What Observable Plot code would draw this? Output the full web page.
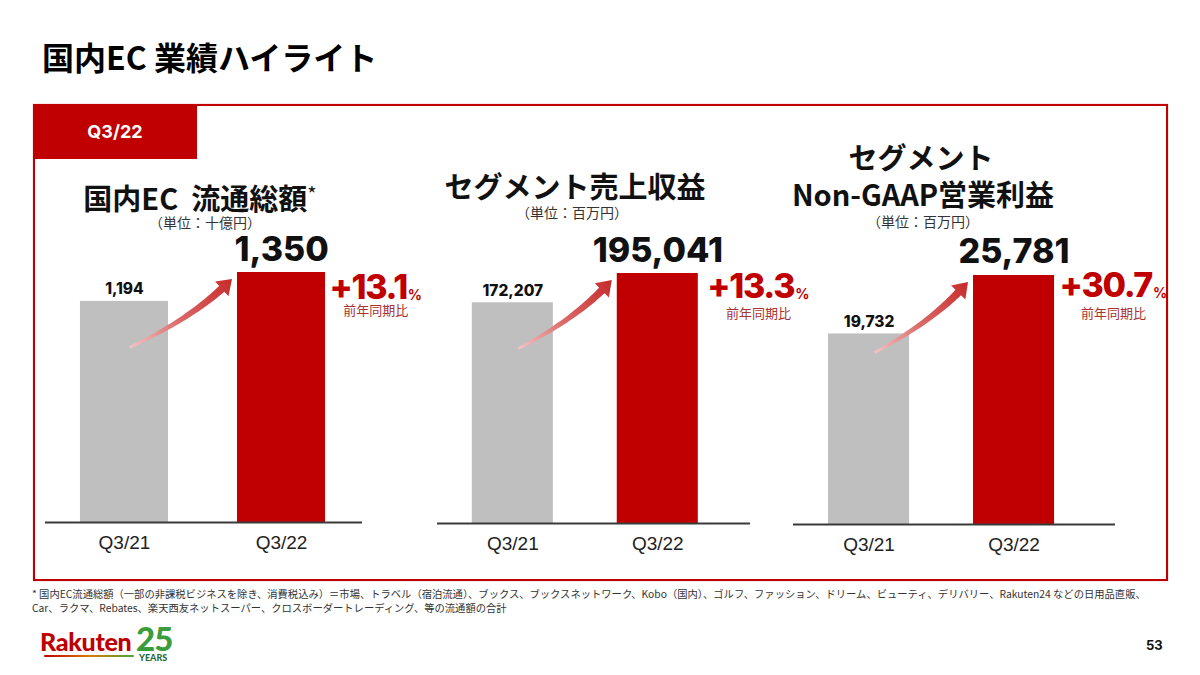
<!DOCTYPE html>
<html lang="ja">
<head>
<meta charset="utf-8">
<script src="https://cdn.jsdelivr.net/npm/d3@7"></script>
<script src="https://cdn.jsdelivr.net/npm/@observablehq/plot@0.6"></script>
<style>
  html, body { margin: 0; padding: 0; background: #fff; }
  #page { position: relative; width: 1200px; height: 675px; overflow: hidden; font-family: "Noto Sans CJK JP", "Noto Sans", sans-serif; color: #111; }
  .abs { position: absolute; white-space: nowrap; }
</style>
</head>
<body>
<div id="page"></div>
<script>
// ---------------- data ----------------
const periods = ["Q3/21", "Q3/22"];
const gmsValues = [1194, 1350];            // 国内EC 流通総額（十億円）
const revenueValues = [172207, 195041];    // セグメント売上収益（百万円）
const profitValues = [19732, 25781];       // セグメント Non-GAAP営業利益（百万円）
const growthLabels = ["+13.1", "+13.3", "+30.7"];
const panelTitles = [["国内EC 流通総額"], ["セグメント売上収益"], ["セグメント", "Non-GAAP営業利益"]];
const unitLabels = ["（単位：十億円）", "（単位：百万円）", "（単位：百万円）"];
const yoyLabel = "前年同期比";
const pageTitle = "国内EC 業績ハイライト";
const tabLabel = "Q3/22";
const footnoteLines = [
  "* 国内EC流通総額（一部の非課税ビジネスを除き、消費税込み）＝市場、トラベル（宿泊流通）、ブックス、ブックスネットワーク、Kobo（国内）、ゴルフ、ファッション、ドリーム、ビューティ、デリバリー、Rakuten24 などの日用品直販、",
  "Car、ラクマ、Rebates、楽天西友ネットスーパー、クロスボーダートレーディング、等の流通額の合計"
];
const pageNumber = "53";
const seriesValues = [gmsValues, revenueValues, profitValues];

// ---------------- styles ----------------
const RED = "#c00000";
const GRAY = "#bfbfbf";
const NUM_FONT = "Inter, 'Liberation Sans', sans-serif";
const JP_FONT = "'Noto Sans CJK JP', sans-serif";
const fmt = d3.format(",");

const page = document.getElementById("page");
function el(tag, css, text) {
  const e = document.createElement(tag);
  e.className = "abs";
  e.style.cssText = css;
  if (text != null) e.textContent = text;
  page.appendChild(e);
  return e;
}

// title
el("div", "left:42px;top:37px;font-size:32px;font-weight:700;line-height:38px;color:#000;", pageTitle);
// panel border + tab
el("div", "left:33px;top:104px;width:1131px;height:473px;border:2px solid " + RED + ";box-shadow:0 0 1px rgba(192,0,0,0.5);");
el("div", "left:33px;top:104px;width:164px;height:55px;background:" + RED + ";color:#fff;font-family:Inter,sans-serif;font-weight:700;font-size:18px;line-height:55px;text-align:center;", tabLabel);

// panel titles
const t1 = el("div", "left:0px;width:400px;top:177px;font-size:29px;font-weight:700;line-height:34px;text-align:center;color:#111;");
t1.innerHTML = '国内EC&nbsp;&nbsp;流通総額<span style="font-size:20px;vertical-align:8px;font-weight:400;">*</span>';
el("div", "left:105px;width:200px;top:213px;font-size:14px;line-height:18px;text-align:center;color:#333;", unitLabels[0]);

el("div", "left:375px;width:400px;top:168px;font-size:29px;font-weight:700;line-height:34px;text-align:center;color:#111;", panelTitles[1][0]);
el("div", "left:472px;width:200px;top:203px;font-size:14px;line-height:18px;text-align:center;color:#333;", unitLabels[1]);

el("div", "left:721px;width:400px;top:139px;font-size:29px;font-weight:700;line-height:34px;text-align:center;color:#111;", panelTitles[2][0]);
el("div", "left:723px;width:400px;top:176px;font-size:29px;font-weight:700;line-height:34px;text-align:center;color:#111;", panelTitles[2][1]);
el("div", "left:823px;width:200px;top:212px;font-size:14px;line-height:18px;text-align:center;color:#333;", unitLabels[2]);

// ---------------- panels ----------------
const layouts = [
  {left: 40,  top: 220, width: 400, height: 350, ml: 5, mr: 78, mt: 52, mb: 48, pi: 0.4395, po: 0.229, align: 0.486, gap: 4,  gdy: 16, yoyDy: 38, bigDy: -22, tail: 0.79},
  {left: 430, top: 220, width: 380, height: 350, ml: 7, mr: 60, mt: 53, mb: 47, pi: 0.441,  po: 0.30,  align: 0.40,  gap: 9,  gdy: 14, yoyDy: 40, bigDy: -22, tail: 0.79},
  {left: 785, top: 220, width: 385, height: 350, ml: 8, mr: 55, mt: 55, mb: 46, pi: 0.441,  po: 0.331, align: 0.365, gap: 5,  gdy: 11, yoyDy: 38, bigDy: -23, tail: 0.90}
];

const canvas = document.createElement("canvas");
const ctx = canvas.getContext("2d");
function textWidth(str, font) { ctx.font = font; return ctx.measureText(str).width; }

const BIG_SIZE = 34, GROW_SIZE = 34, GROW_LS = -1.3, PCT_SIZE = 14;

layouts.forEach((L, k) => {
  const values = seriesValues[k];
  const data = periods.map((p, i) => ({period: p, value: values[i]}));
  const step = (L.width - L.ml - L.mr) / (2 - L.pi + 2 * L.po);
  const bw = step * (1 - L.pi);
  const gLabel = growthLabels[k];
  const wBig = textWidth(gLabel, `800 ${GROW_SIZE}px Inter`) + GROW_LS * gLabel.length;
  const wPct = textWidth("%", `700 ${PCT_SIZE}px Inter`);
  const gStart = bw / 2 + L.gap;

  const plot = Plot.plot({
    width: L.width, height: L.height,
    marginLeft: L.ml, marginRight: L.mr, marginTop: L.mt, marginBottom: L.mb,
    style: {background: "transparent", overflow: "visible", fontSize: "19px", fontFamily: "'Liberation Sans', Arial, sans-serif", color: "#222"},
    x: {domain: periods, paddingInner: L.pi, paddingOuter: L.po, align: L.align, round: false, tickSize: 0, tickPadding: 13, label: null},
    y: {domain: [0, values[1]], axis: null},
    marks: [
      Plot.barY([data[0]], {x: "period", y: "value", fill: GRAY}),
      Plot.barY([data[1]], {x: "period", y: "value", fill: RED}),
      Plot.ruleY([0], {stroke: "#3a3a3a", strokeWidth: 2}),
      Plot.text([data[0]], {x: "period", y: "value", text: d => fmt(d.value), dy: -12, fontSize: 15.5, fontWeight: 800, fontFamily: NUM_FONT, fill: "#111"}),
      Plot.text([data[1]], {x: "period", y: "value", text: d => fmt(d.value), dy: L.bigDy, fontSize: BIG_SIZE, fontWeight: 800, fontFamily: NUM_FONT, fill: "#111"}),
      Plot.text([data[1]], {x: "period", y: "value", text: () => gLabel, dx: gStart, dy: L.gdy, textAnchor: "start", fontSize: GROW_SIZE, fontWeight: 800, fontFamily: NUM_FONT, fill: RED}),
      Plot.text([data[1]], {x: "period", y: "value", text: () => "%", dx: gStart + wBig + 1, dy: L.gdy + 6.6, textAnchor: "start", fontSize: PCT_SIZE, fontWeight: 700, fontFamily: NUM_FONT, fill: RED}),
      Plot.text([data[1]], {x: "period", y: "value", text: () => yoyLabel, dx: gStart + (wBig + 1 + wPct) / 2, dy: L.yoyDy, fontSize: 13, fontFamily: JP_FONT, fill: "#a83232"})
    ]
  });
  plot.style.position = "absolute";
  plot.style.left = L.left + "px";
  plot.style.top = L.top + "px";
  page.appendChild(plot);

  const svg = d3.select(plot.tagName.toLowerCase() === "svg" ? plot : plot.querySelector("svg"));
  svg.selectAll("text").filter(function () { return this.textContent === gLabel; }).attr("letter-spacing", GROW_LS + "px");

  // curved arrow drawn through the plot's own scales
  const xs = plot.scale("x"), ys = plot.scale("y");
  const xf = xs.apply ? (v => xs.apply(v)) : d3.scaleBand(xs.domain, xs.range).paddingInner(xs.paddingInner).paddingOuter(xs.paddingOuter).align(xs.align);
  const yf = ys.apply ? (v => ys.apply(v)) : d3.scaleLinear(ys.domain, ys.range);
  const P0 = [xf(periods[0]) + bw / 2 + 6, yf(values[0] * L.tail)];
  const P2 = [xf(periods[1]) - 5, yf(values[1]) + 7];
  const C = [P0[0] + 0.64 * (P2[0] - P0[0]), P0[1] + 0.45 * (P2[1] - P0[1])];
  const q = (t) => [
    (1 - t) * (1 - t) * P0[0] + 2 * (1 - t) * t * C[0] + t * t * P2[0],
    (1 - t) * (1 - t) * P0[1] + 2 * (1 - t) * t * C[1] + t * t * P2[1]
  ];
  const dq = (t) => [
    2 * (1 - t) * (C[0] - P0[0]) + 2 * t * (P2[0] - C[0]),
    2 * (1 - t) * (C[1] - P0[1]) + 2 * t * (P2[1] - C[1])
  ];
  const len = Math.hypot(P2[0] - P0[0], P2[1] - P0[1]);
  const tEnd = 1 - 17 / (len * 1.05);
  const left = [], right = [];
  const N = 30;
  for (let i = 0; i <= N; i++) {
    const t = tEnd * i / N;
    const p = q(t), d = dq(t), n = Math.hypot(d[0], d[1]);
    const nx = -d[1] / n, ny = d[0] / n;
    const hw = 1.3 + 2.6 * (i / N);
    left.push([p[0] + nx * hw, p[1] + ny * hw]);
    right.push([p[0] - nx * hw, p[1] - ny * hw]);
  }
  const base = q(tEnd), dEnd = dq(tEnd), nE = Math.hypot(dEnd[0], dEnd[1]);
  const ux = dEnd[0] / nE, uy = dEnd[1] / nE;
  const hw2 = 10;
  const headL = [base[0] - uy * hw2, base[1] + ux * hw2];
  const headR = [base[0] + uy * hw2, base[1] - ux * hw2];
  const pts = [...left, headL, P2, headR, ...right.reverse()];
  const gid = "arrowGrad" + k;
  const defs = svg.append("defs");
  const lg = defs.append("linearGradient").attr("id", gid).attr("gradientUnits", "userSpaceOnUse")
    .attr("x1", P0[0]).attr("y1", P0[1]).attr("x2", P2[0]).attr("y2", P2[1]);
  lg.append("stop").attr("offset", 0).attr("stop-color", "#f2c4c4");
  lg.append("stop").attr("offset", 0.45).attr("stop-color", "#dc6a6a");
  lg.append("stop").attr("offset", 1).attr("stop-color", "#c62a2a");
  svg.append("path").attr("d", "M" + pts.map(p => p.join(",")).join("L") + "Z").attr("fill", `url(#${gid})`);
});

// footnote
footnoteLines.forEach((line, i) => {
  el("div", `left:32px;top:${587 + i * 14}px;font-size:10.3px;line-height:14px;color:#333;letter-spacing:0px;`, line);
});

// logo
el("div", "left:40px;top:627px;font-family:Lato,'Open Sans',sans-serif;font-weight:900;font-size:25px;line-height:28px;color:#bf0000;letter-spacing:-0.3px;", "Rakuten");
el("div", "left:44px;top:655px;width:90px;height:2px;border-radius:2px;background:linear-gradient(90deg,#bf0000,#d97a00,#4aa63a);");
el("div", "left:136px;top:624px;font-family:Lato,'Open Sans',sans-serif;font-weight:900;font-size:33px;line-height:29px;color:#3a9c3a;letter-spacing:-1px;", "25");
el("div", "left:139px;top:653px;font-family:Lato,'Open Sans',sans-serif;font-weight:900;font-size:9px;line-height:9px;color:#1e6b3a;", "YEARS");
// page number
el("div", "left:1146px;top:637px;font-family:Inter,sans-serif;font-weight:700;font-size:13px;line-height:16px;color:#111;", pageNumber);
</script>
</body>
</html>
